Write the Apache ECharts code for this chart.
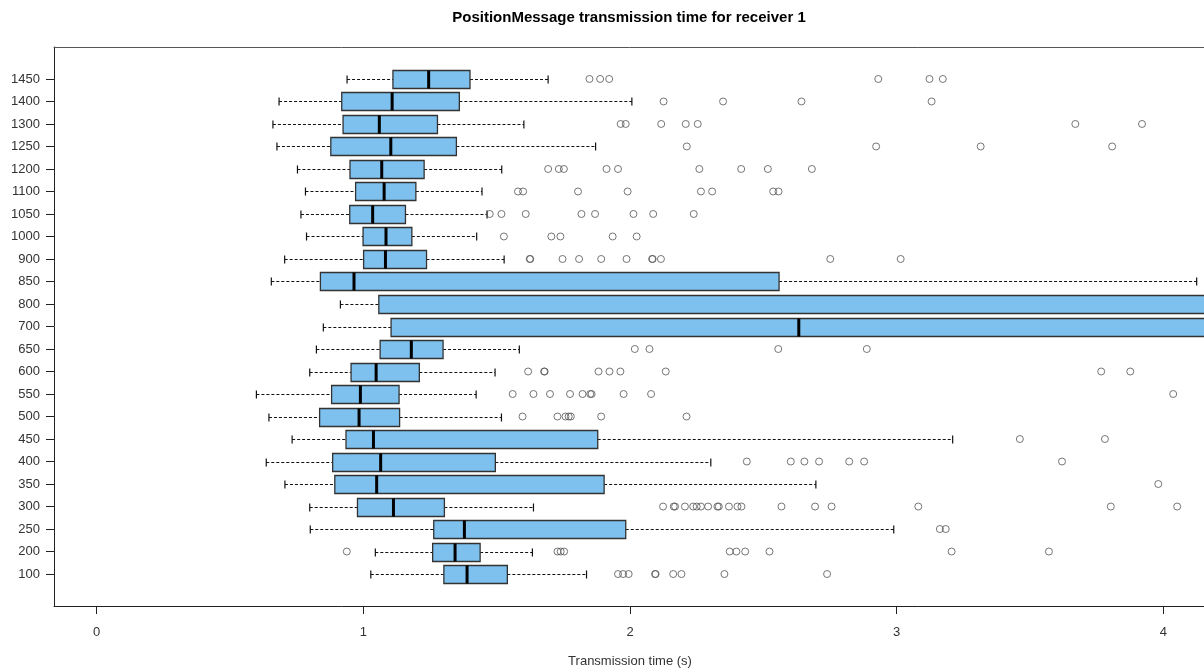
<!DOCTYPE html>
<html>
<head>
<meta charset="utf-8">
<script src="https://cdn.jsdelivr.net/npm/echarts@6/dist/echarts.min.js"></script>
<style>html,body{margin:0;padding:0;background:#fff}#c{width:1204px;height:670px}</style>
</head>
<body>
<div id="c"></div>
<script>
// ---- data (bottom to top) ----
const categories = ['100','200','250','300','350','400','450','500','550','600','650','700','800','850','900','1000','1050','1100','1200','1250','1300','1400','1450'];
const lowWhisker = [1.028,1.045,0.801,0.799,0.706,0.636,0.733,0.646,0.599,0.799,0.824,0.850,0.914,0.655,0.705,0.787,0.766,0.783,0.753,0.676,0.661,0.684,0.939];
const q1Values   = [1.302,1.260,1.264,0.978,0.893,0.885,0.935,0.836,0.881,0.954,1.063,1.104,1.058,0.839,1.001,0.999,0.949,0.971,0.950,0.878,0.924,0.919,1.111];
const medians    = [1.389,1.344,1.379,1.113,1.050,1.065,1.038,0.984,0.989,1.048,1.180,2.633,4.600,0.965,1.083,1.085,1.035,1.078,1.069,1.103,1.060,1.108,1.245];
const q3Values   = [1.540,1.438,1.984,1.304,1.903,1.495,1.879,1.136,1.134,1.210,1.299,5.500,6.200,2.559,1.237,1.182,1.158,1.197,1.228,1.349,1.278,1.360,1.400];
const highWhisker= [1.837,1.634,2.989,1.638,2.697,2.303,3.210,1.518,1.423,1.494,1.585,7.000,8.000,4.125,1.528,1.425,1.464,1.445,1.519,1.871,1.602,2.007,1.693];
const outliers = [
  [1.955,1.974,1.995,2.094,2.096,2.162,2.193,2.354,2.739],
  [0.938,1.728,1.740,1.753,2.374,2.399,2.432,2.523,3.206,3.571],
  [3.162,3.184],
  [2.124,2.164,2.169,2.206,2.237,2.250,2.266,2.293,2.328,2.333,2.371,2.403,2.418,2.568,2.694,2.756,3.081,3.803,4.052],
  [3.981],
  [2.438,2.603,2.654,2.709,2.822,2.878,3.620],
  [3.462,3.781],
  [1.597,1.728,1.758,1.770,1.778,1.892,2.212],
  [1.560,1.638,1.700,1.775,1.822,1.851,1.856,1.976,2.079,4.037],
  [1.618,1.678,1.680,1.882,1.923,1.964,2.134,3.767,3.876],
  [2.018,2.073,2.556,2.888],
  [],
  [],
  [],
  [1.624,1.626,1.747,1.809,1.892,1.987,2.083,2.085,2.116,2.751,3.015],
  [1.527,1.705,1.739,1.935,2.025],
  [1.474,1.518,1.609,1.818,1.869,2.013,2.087,2.239],
  [1.580,1.599,1.805,1.991,2.266,2.308,2.537,2.557],
  [1.693,1.733,1.752,1.912,1.955,2.260,2.417,2.517,2.682],
  [2.213,2.923,3.315,3.808],
  [1.965,1.984,2.117,2.209,2.254,3.670,3.920],
  [2.126,2.349,2.643,3.131],
  [1.848,1.888,1.922,2.931,3.123,3.173]
];
const xTicks = [0,1,2,3,4];
const xMin = -0.16, xMax = 4.16;
const titleText = 'PositionMessage transmission time for receiver 1';
const xName = 'Transmission time (s)';

// ---- layout ----
const FONT = '"Liberation Sans", Arial, sans-serif';
const frameTop = 47, frameBottom = 606, frameLeft = 54, frameRight = -2;
const pad = 0.04 * categories.length;
const unit = (frameBottom - frameTop) / (categories.length + 2 * pad);
const dataTop = frameTop + pad * unit;
const dataHeight = categories.length * unit;

const boxData = categories.map((c, i) => [i, lowWhisker[i], q1Values[i], medians[i], q3Values[i], highWhisker[i]]);
const outlierData = [];
outliers.forEach((arr, i) => arr.forEach(v => outlierData.push([v, i])));

function renderBox(params, api) {
  const y = api.value(0);
  const pLow = api.coord([api.value(1), y]);
  const pQ1 = api.coord([api.value(2), y]);
  const pMed = api.coord([api.value(3), y]);
  const pQ3 = api.coord([api.value(4), y]);
  const pHigh = api.coord([api.value(5), y]);
  const band = api.size([0, 1])[1];
  const h = band * 0.8;
  const s = h * 0.45;
  const cy = Math.round(pQ1[1]) + 0.5;
  const dash = {stroke: '#111', lineWidth: 1, lineDash: [3, 2]};
  const solid = {stroke: '#111', lineWidth: 1.2};
  return {
    type: 'group',
    children: [
      {type: 'line', shape: {x1: pLow[0], y1: cy, x2: pQ1[0], y2: cy}, style: dash},
      {type: 'line', shape: {x1: pQ3[0], y1: cy, x2: pHigh[0], y2: cy}, style: dash},
      {type: 'line', shape: {x1: pLow[0], y1: cy - s / 2, x2: pLow[0], y2: cy + s / 2}, style: solid},
      {type: 'line', shape: {x1: pHigh[0], y1: cy - s / 2, x2: pHigh[0], y2: cy + s / 2}, style: solid},
      {type: 'rect', shape: {x: pQ1[0], y: cy - h / 2, width: pQ3[0] - pQ1[0], height: h},
        style: {fill: '#7EC0EE', stroke: '#333', lineWidth: 1.3}},
      {type: 'line', shape: {x1: pMed[0], y1: cy - h / 2, x2: pMed[0], y2: cy + h / 2},
        style: {stroke: '#000', lineWidth: 3}}
    ]
  };
}

const chart = echarts.init(document.getElementById('c'), null, {renderer: 'canvas'});
chart.setOption({
  animation: false,
  backgroundColor: '#fff',
  textStyle: {fontFamily: FONT},
  title: {
    text: titleText, left: 624, top: 5, textAlign: 'center',
    textStyle: {fontFamily: FONT, fontSize: 15, fontWeight: 'bold', color: '#000'}
  },
  grid: [
    {left: frameLeft, right: frameRight, top: frameTop, height: frameBottom - frameTop, containLabel: false, outerBoundsMode: 'none'},
    {left: frameLeft, right: frameRight, top: dataTop, height: dataHeight, containLabel: false, outerBoundsMode: 'none'}
  ],
  xAxis: [
    {
      gridIndex: 0, type: 'value', min: xMin, max: xMax, position: 'bottom',
      axisLine: {show: true, onZero: false, lineStyle: {color: '#222', width: 1}},
      axisTick: {show: true, customValues: xTicks, length: 8, inside: false, lineStyle: {color: '#222'}},
      axisLabel: {show: true, customValues: xTicks, margin: 20, fontSize: 13, color: '#333', fontFamily: FONT},
      splitLine: {show: false},
      name: xName, nameLocation: 'middle', nameGap: 49,
      nameTextStyle: {fontSize: 13, color: '#333', fontFamily: FONT}
    },
    {
      gridIndex: 0, type: 'value', min: xMin, max: xMax, position: 'top',
      axisLine: {show: true, onZero: false, lineStyle: {color: '#555', width: 1}},
      axisTick: {show: false}, axisLabel: {show: false}, splitLine: {show: false}
    },
    {
      gridIndex: 1, type: 'value', min: xMin, max: xMax, show: false
    }
  ],
  yAxis: [
    {
      gridIndex: 0, type: 'value', min: 0, max: 1, position: 'left',
      axisLine: {show: true, onZero: false, lineStyle: {color: '#222', width: 1}},
      axisTick: {show: false}, axisLabel: {show: false}, splitLine: {show: false}
    },
    {
      gridIndex: 1, type: 'category', data: categories, position: 'left',
      axisLine: {show: false, onZero: false},
      axisTick: {show: true, alignWithLabel: true, length: 8, lineStyle: {color: '#222'}},
      axisLabel: {show: true, margin: 14, fontSize: 13, color: '#333', fontFamily: FONT},
      splitLine: {show: false}
    }
  ],
  series: [
    {
      type: 'custom', xAxisIndex: 2, yAxisIndex: 1, clip: true,
      renderItem: renderBox, data: boxData,
      encode: {x: [1, 2, 3, 4, 5], y: 0}
    },
    {
      type: 'scatter', xAxisIndex: 2, yAxisIndex: 1, clip: true,
      symbol: 'circle', symbolSize: 7,
      itemStyle: {color: 'rgba(0,0,0,0)', borderColor: '#555', borderWidth: 1},
      data: outlierData
    }
  ]
});
</script>
</body>
</html>
